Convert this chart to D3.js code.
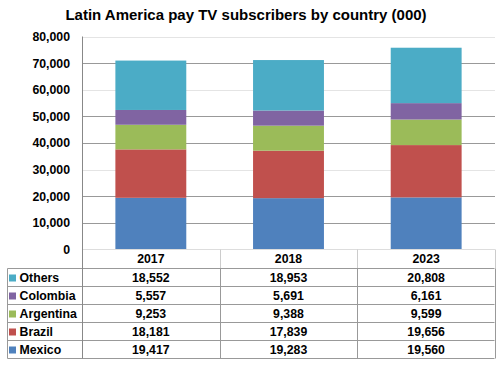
<!DOCTYPE html>
<html><head><meta charset="utf-8">
<script src="https://cdn.jsdelivr.net/npm/d3@7"></script>
<style>body{margin:0;background:#fff}svg{display:block}</style>
</head><body>
<svg id="c" width="500" height="366"></svg>
<script>
const categories = ["2017", "2018", "2023"];
const seriesNames = ["Mexico", "Brazil", "Argentina", "Colombia", "Others"];
const mexico = [19417, 19283, 19560];
const brazil = [18181, 17839, 19656];
const argentina = [9253, 9388, 9599];
const colombia = [5557, 5691, 6161];
const others = [18552, 18953, 20808];
const yTicks = [0, 10000, 20000, 30000, 40000, 50000, 60000, 70000, 80000];
const colors = ["#4F81BD", "#C0504D", "#9BBB59", "#8064A2", "#4BACC6"];

const seriesValues = [mexico, brazil, argentina, colombia, others];
const rows = categories.map((c, i) => {
  const o = {cat: c};
  seriesNames.forEach((s, j) => o[s] = seriesValues[j][i]);
  return o;
});

const svg = d3.select("#c");
const font = "Arial, 'Liberation Sans', sans-serif";
const fs = 12.3;
const pLeft = 82, pRight = 495, pTop = 36.5, pBottom = 249.5;
const x = d3.scaleBand().domain(categories).range([pLeft, pRight]).paddingInner(0.485).paddingOuter(0.2425);
const y = d3.scaleLinear().domain([0, 80000]).range([pBottom, pTop]);

svg.append("text").attr("x", 246).attr("y", 20).attr("text-anchor", "middle")
  .attr("font-family", font).attr("font-weight", "bold").attr("font-size", 15)
  .attr("fill", "#000").text("Latin America pay TV subscribers by country (000)");

// gridlines
const darkTicks = new Set([10000, 20000, 40000, 50000, 70000]);
svg.append("g").selectAll("line").data(yTicks.filter(t => t > 0)).join("line")
  .attr("x1", pLeft).attr("x2", pRight)
  .attr("y1", d => Math.round(y(d)) + 0.5).attr("y2", d => Math.round(y(d)) + 0.5)
  .attr("stroke", d => darkTicks.has(d) ? "#999" : "#e4e4e4").attr("stroke-width", 1);

// axis labels
const yAxis = d3.axisLeft(y).tickValues(yTicks).tickFormat(d3.format(",")).tickSize(0).tickPadding(12);
const ga = svg.append("g").attr("transform", `translate(${pLeft},0)`).call(yAxis);
ga.select(".domain").remove();
ga.selectAll("text").attr("font-family", font).attr("font-weight", "bold").attr("font-size", fs).attr("fill", "#000");

// bars
const stack = d3.stack().keys(seriesNames)(rows);
svg.append("g").selectAll("g").data(stack).join("g")
  .attr("fill", (d, i) => colors[i])
  .selectAll("rect").data(d => d).join("rect")
  .attr("x", d => x(d.data.cat)).attr("width", x.bandwidth())
  .attr("y", d => y(d[1])).attr("height", d => y(d[0]) - y(d[1]));

// baseline
svg.append("line").attr("x1", pLeft).attr("x2", pRight).attr("y1", pBottom).attr("y2", pBottom)
  .attr("stroke", "#ddd");

// table
const rowH = 18, headTop = 249.5, headBot = 268.5, tableLeft = 7.5, tableRight = 494.5;
const tableRows = seriesNames.slice().reverse();
const tableBot = headBot + rowH * tableRows.length;
const boundaries = [pLeft].concat(categories.map(c => x(c) + x.bandwidth() / 2 + x.step() / 2));
const tg = svg.append("g");
boundaries.slice(1).forEach(bx => {
  tg.append("line").attr("x1", Math.round(bx) + 0.5).attr("x2", Math.round(bx) + 0.5)
    .attr("y1", headTop).attr("y2", headBot).attr("stroke", "#ccc");
});
tg.selectAll("text.h").data(categories).join("text").attr("class", "h")
  .attr("x", d => x(d) + x.bandwidth() / 2).attr("y", 263).attr("text-anchor", "middle")
  .attr("font-family", font).attr("font-weight", "bold").attr("font-size", fs).text(d => d);
d3.range(tableRows.length + 1).forEach(i => {
  const yy = headBot + i * rowH;
  tg.append("line").attr("x1", tableLeft).attr("x2", tableRight).attr("y1", yy).attr("y2", yy)
    .attr("stroke", "#999");
});
[tableLeft].concat(boundaries.map(b => Math.round(b) + 0.5)).forEach(bx => {
  tg.append("line").attr("x1", bx).attr("x2", bx)
    .attr("y1", headBot).attr("y2", tableBot).attr("stroke", "#999");
});
svg.append("line").attr("x1", pLeft + 0.5).attr("x2", pLeft + 0.5).attr("y1", pTop).attr("y2", tableBot)
  .attr("stroke", "#888");
tableRows.forEach((name, i) => {
  const si = seriesNames.indexOf(name);
  const yy = headBot + i * rowH;
  tg.append("rect").attr("x", 9).attr("y", yy + 6).attr("width", 7).attr("height", 7).attr("fill", colors[si]);
  tg.append("text").attr("x", 19.5).attr("y", yy + 13.5).attr("font-family", font).attr("font-weight", "bold")
    .attr("font-size", fs).text(name);
  categories.forEach((c, j) => {
    tg.append("text").attr("x", x(c) + x.bandwidth() / 2).attr("y", yy + 13.5).attr("text-anchor", "middle")
      .attr("font-family", font).attr("font-weight", "bold").attr("font-size", fs)
      .text(d3.format(",")(seriesValues[si][j]));
  });
});
</script>
</body></html>
